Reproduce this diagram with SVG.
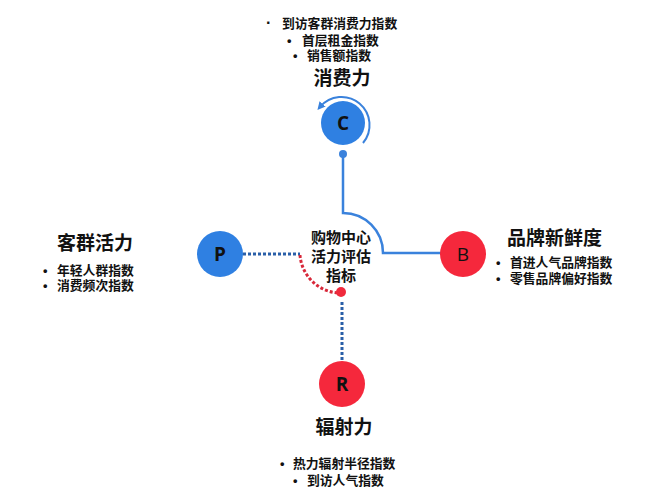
<svg xmlns="http://www.w3.org/2000/svg" width="666" height="499" viewBox="0 0 666 499">
<style>
.t{font-family:"Liberation Sans","Noto Sans CJK SC",sans-serif;font-weight:bold;fill:#111;}
.title{font-size:19px;}
.item{font-size:12.8px;}
.center{font-size:15px;}
.let{font-family:"Open Sans","Liberation Sans",sans-serif;font-size:19px;fill:#111;text-anchor:middle;dominant-baseline:central;}
.blue{fill:#2f80e2;}
.red{fill:#f5283c;}
</style>
<defs>
<marker id="ah" viewBox="0 0 10 10" refX="5" refY="5" markerWidth="4" markerHeight="4" orient="auto">
<path d="M0,0 L10,5 L0,10 z" fill="#3a82dc"/>
</marker>
</defs>
<rect width="666" height="499" fill="#fff"/>
<g id="connectors" fill="none">
<path d="M343,154 V213 A40,40 0 0 1 383,253 H441" stroke="#3a82dc" stroke-width="2.5"/>
<circle cx="343" cy="154" r="4" fill="#3a82dc"/>
<path d="M243,254 H300" stroke="#2a5fa8" stroke-width="3" stroke-dasharray="3,2"/>
<path d="M300,255 A41,41 0 0 0 341,293" stroke="#d8283a" stroke-width="3" stroke-dasharray="3,2"/>
<circle cx="341" cy="292" r="5" fill="#f02a3c"/>
<path d="M342,302 V360" stroke="#2a5fa8" stroke-width="3" stroke-dasharray="3,2"/>
<path d="M363,143 A28,28 0 1 0 320,107" stroke="#3a82dc" stroke-width="2" marker-end="url(#ah)"/>
</g>
<g id="node-C">
<circle cx="343" cy="123" r="22" class="blue"/>
<text x="343" y="123" class="let" font-weight="bold">C</text>
<text x="342" y="85" class="t title" text-anchor="middle">消费力</text>
<text class="t item" y="28"><tspan x="266" font-size="16">·</tspan><tspan x="282">到访客群消费力指数</tspan></text>
<text class="t item" y="45"><tspan x="287">•</tspan><tspan x="302">首层租金指数</tspan></text>
<text class="t item" y="60"><tspan x="293">•</tspan><tspan x="307">销售额指数</tspan></text>
</g>
<g id="node-P">
<circle cx="220" cy="254" r="23" class="blue"/>
<text x="220" y="254" class="let" font-weight="bold">P</text>
<text x="57" y="250" class="t title">客群活力</text>
<text class="t item" y="275"><tspan x="43">•</tspan><tspan x="57">年轻人群指数</tspan></text>
<text class="t item" y="290"><tspan x="43">•</tspan><tspan x="57">消费频次指数</tspan></text>
</g>
<g id="node-B">
<circle cx="463" cy="254" r="23" class="red"/>
<text x="463" y="254" class="let">B</text>
<text x="507" y="245" class="t title">品牌新鲜度</text>
<text class="t item" y="267"><tspan x="496">•</tspan><tspan x="510">首进人气品牌指数</tspan></text>
<text class="t item" y="283"><tspan x="496">•</tspan><tspan x="510">零售品牌偏好指数</tspan></text>
</g>
<g id="node-R">
<circle cx="342" cy="384" r="23" class="red"/>
<text x="342" y="384" class="let" font-weight="bold">R</text>
<text x="344" y="434" class="t title" text-anchor="middle">辐射力</text>
<text class="t item" y="468"><tspan x="280">•</tspan><tspan x="293">热力辐射半径指数</tspan></text>
<text class="t item" y="485"><tspan x="293">•</tspan><tspan x="307">到访人气指数</tspan></text>
</g>
<g id="node-center">
<text class="t center" text-anchor="middle"><tspan x="341" y="243">购物中心</tspan><tspan x="341" y="262">活力评估</tspan><tspan x="341" y="281">指标</tspan></text>
</g>
</svg>
